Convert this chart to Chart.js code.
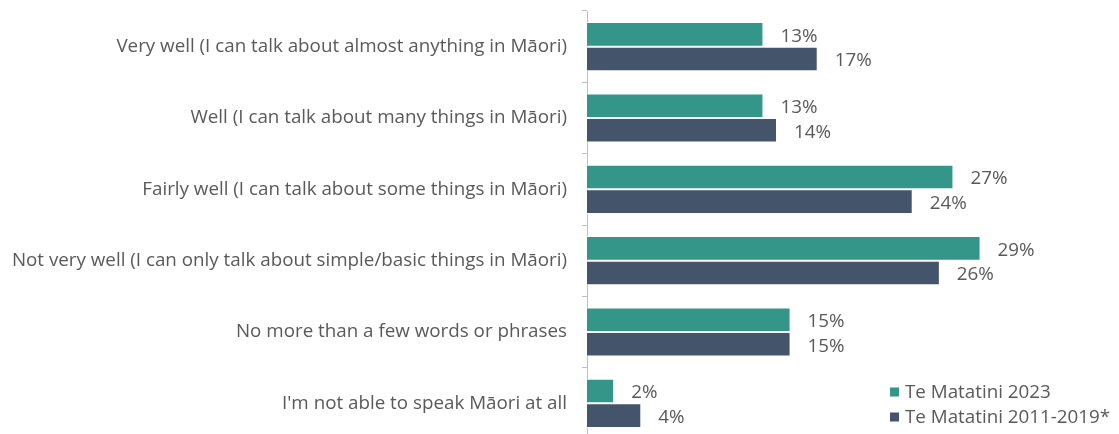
<!DOCTYPE html>
<html>
<head>
<meta charset="utf-8">
<script src="https://cdn.jsdelivr.net/npm/chart.js@4"></script>
<style>
  html, body { margin: 0; padding: 0; background: #fff; overflow: hidden; }
  .wrap { position: relative; width: 1119px; height: 440px; }
</style>
</head>
<body>
<div class="wrap"><canvas id="chart"></canvas></div>
<script>
const categories = [
  'Very well (I can talk about almost anything in Māori)',
  'Well (I can talk about many things in Māori)',
  'Fairly well (I can talk about some things in Māori)',
  'Not very well (I can only talk about simple/basic things in Māori)',
  'No more than a few words or phrases',
  "I'm not able to speak Māori at all",
];
const values2023 = [13, 13, 27, 29, 15, 2];
const values2011to2019 = [17, 14, 24, 26, 15, 4];
const seriesLabels = ['Te Matatini 2023', 'Te Matatini 2011-2019*'];

const TEAL = '#339688';
const NAVY = '#44546A';
const TEXT = '#595959';
const AXIS = '#bfbfbf';
const FONT = '"Open Sans", sans-serif';
const FONT_SIZE = 18.8;

// value labels just past the end of each bar
const valueLabels = {
  id: 'valueLabels',
  afterDatasetsDraw(chart) {
    const { ctx } = chart;
    ctx.save();
    ctx.font = FONT_SIZE + 'px ' + FONT;
    ctx.fillStyle = TEXT;
    ctx.textAlign = 'left';
    ctx.textBaseline = 'middle';
    chart.data.datasets.forEach((ds, i) => {
      chart.getDatasetMeta(i).data.forEach((bar, j) => {
        ctx.fillText(ds.data[j] + '%', bar.x + 17, bar.y + 2);
      });
    });
    ctx.restore();
  },
};

// legend in the lower right corner
const cornerLegend = {
  id: 'cornerLegend',
  afterDraw(chart) {
    const { ctx } = chart;
    ctx.save();
    ctx.font = FONT_SIZE + 'px ' + FONT;
    ctx.textAlign = 'left';
    ctx.textBaseline = 'middle';
    chart.data.datasets.forEach((ds, i) => {
      const y = 392 + i * 25;
      ctx.fillStyle = ds.backgroundColor;
      ctx.fillRect(890, y - 4.5, 9, 9);
      ctx.fillStyle = TEXT;
      ctx.fillText(ds.label, 905, y + 1);
    });
    ctx.restore();
  },
};

new Chart(document.getElementById('chart'), {
  type: 'bar',
  data: {
    labels: categories,
    datasets: [
      {
        label: seriesLabels[0],
        data: values2023,
        backgroundColor: TEAL,
        borderColor: '#ffffff',
        borderWidth: 1,
      },
      {
        label: seriesLabels[1],
        data: values2011to2019,
        backgroundColor: NAVY,
        borderColor: '#ffffff',
        borderWidth: 1,
      },
    ],
  },
  options: {
    indexAxis: 'y',
    responsive: true,
    maintainAspectRatio: false,
    animation: false,
    layout: { padding: { top: 11, right: 57, bottom: 1, left: 0 } },
    datasets: {
      bar: { categoryPercentage: 0.69, barPercentage: 1 },
    },
    plugins: {
      legend: { display: false },
      tooltip: { enabled: false },
    },
    scales: {
      x: {
        display: false,
        min: 0,
        max: 35,
      },
      y: {
        afterFit(scale) {
          scale.width = 587;
          scale.paddingTop = 0;
          scale.paddingBottom = 0;
        },
        grid: {
          drawOnChartArea: false,
          tickLength: 5,
          color: AXIS,
          offset: true,
        },
        border: { color: AXIS, width: 1 },
        ticks: {
          color: TEXT,
          font: { family: FONT, size: FONT_SIZE },
          padding: 15,
        },
      },
    },
  },
  plugins: [valueLabels, cornerLegend],
});
</script>
</body>
</html>
